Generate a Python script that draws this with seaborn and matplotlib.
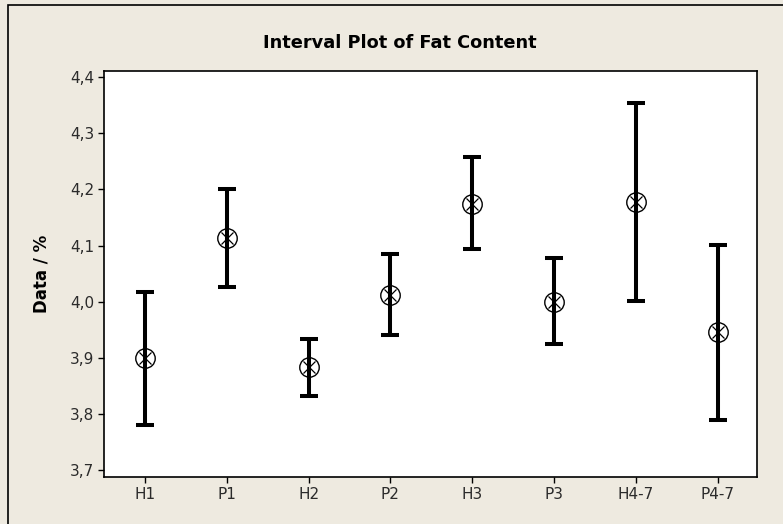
import numpy as np
import pandas as pd
import matplotlib
matplotlib.use("Agg")
import matplotlib.pyplot as plt
from matplotlib.patches import Rectangle
from matplotlib.ticker import FuncFormatter
import seaborn as sns

# interval data
groups = ["H1", "P1", "H2", "P2", "H3", "P3", "H4-7", "P4-7"]
means = [3.899, 4.113, 3.883, 4.011, 4.174, 3.999, 4.177, 3.946]
lower = [3.780, 4.026, 3.831, 3.941, 4.094, 3.924, 4.001, 3.789]
upper = [4.018, 4.200, 3.933, 4.084, 4.257, 4.077, 4.354, 4.101]
yticks = [3.7, 3.8, 3.9, 4.0, 4.1, 4.2, 4.3, 4.4]

# long form: lower, mean, upper per group -> median = mean, min/max = interval
df = pd.DataFrame({
    "group": np.repeat(groups, 3),
    "value": np.ravel(np.column_stack([lower, means, upper])),
})

sns.set_style("white")
plt.rcParams["font.family"] = ["DejaVu Sans"]

bg = "#eeeae0"
fig = plt.figure(figsize=(7.83, 5.24), dpi=100, facecolor=bg)
ax = fig.add_axes([104 / 783, 1 - 477 / 524, (757 - 104) / 783, (477 - 71) / 524])
ax.set_facecolor("white")

sns.pointplot(data=df, x="group", y="value", order=groups,
              estimator=np.median, errorbar=lambda v: (v.min(), v.max()),
              color="black", linestyle="none", marker="o", capsize=0.22,
              err_kws={"linewidth": 2.9, "solid_capstyle": "butt"}, markersize=14,
              markerfacecolor="none", markeredgewidth=1.0, ax=ax)
sns.pointplot(data=df, x="group", y="value", order=groups,
              estimator=np.median, errorbar=None,
              color="black", linestyle="none", marker="x",
              markersize=8.5, markeredgewidth=0.9, ax=ax)

ax.set_xlim(-0.5, 7.48)
ax.set_ylim(3.6875, 4.411)
ax.set_yticks(yticks)
ax.yaxis.set_major_formatter(FuncFormatter(lambda v, p: f"{v:.1f}".replace(".", ",")))

for s in ax.spines.values():
    s.set_color("black")
    s.set_linewidth(1.2)

ax.tick_params(axis="both", direction="out", length=4, width=1, colors="black",
               labelcolor="#2b2b2b", labelsize=11, pad=3, left=True, bottom=True)
ax.set_xlabel("")
ax.set_ylabel("Data / %", fontsize=12, fontweight="bold", labelpad=14, color="black")
fig.text(0.511, 1 - 43 / 524, "Interval Plot of Fat Content", ha="center", va="center",
         fontsize=12.8, fontweight="bold", color="black")

# outer frame, open to the right and bottom like the source
fig.patches.append(Rectangle((8 / 783, -0.1), 1.2, 1.1 - 5 / 524, transform=fig.transFigure,
                             facecolor="none", edgecolor="black", linewidth=1.2))

fig.savefig("out.png", dpi=100, facecolor=bg)
